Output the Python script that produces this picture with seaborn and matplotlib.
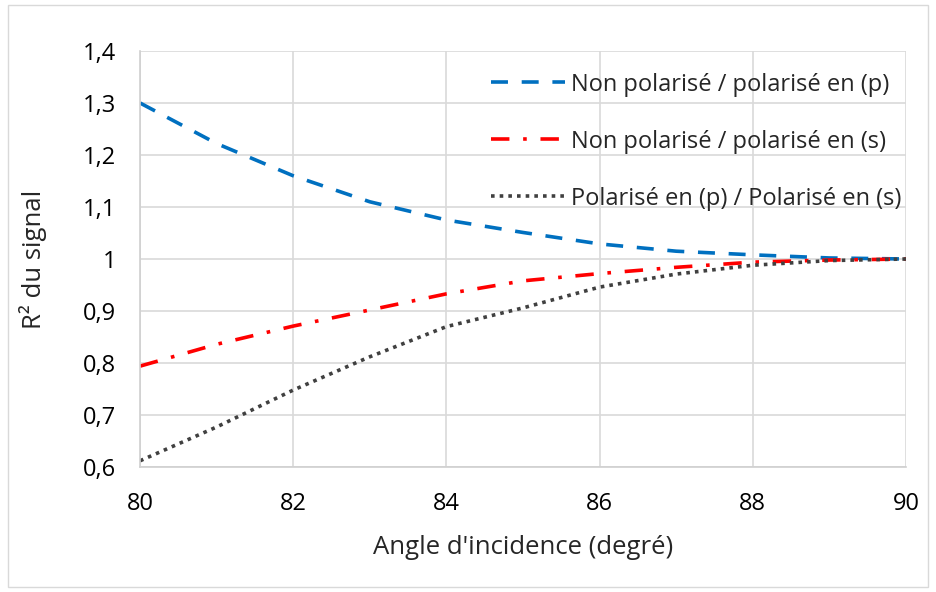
import numpy as np
import pandas as pd
import matplotlib
matplotlib.use("Agg")
import matplotlib.pyplot as plt
import seaborn as sns

# values
angles = [80, 81, 82, 83, 84, 85, 86, 87, 88, 89, 90]
non_pol_p = [1.300, 1.222, 1.160, 1.110, 1.075, 1.051, 1.029, 1.015, 1.008, 1.002, 1.000]
non_pol_s = [0.794, 0.836, 0.871, 0.902, 0.933, 0.958, 0.972, 0.984, 0.994, 0.998, 1.000]
pol_p_s = [0.612, 0.677, 0.748, 0.812, 0.870, 0.906, 0.946, 0.971, 0.988, 0.997, 1.000]
labels = ["Non polarisé / polarisé en (p)",
          "Non polarisé / polarisé en (s)",
          "Polarisé en (p) / Polarisé en (s)"]
y_ticks = [0.6, 0.7, 0.8, 0.9, 1.0, 1.1, 1.2, 1.3, 1.4]
y_tick_labels = ["0,6", "0,7", "0,8", "0,9", "1", "1,1", "1,2", "1,3", "1,4"]
x_ticks = [80, 82, 84, 86, 88, 90]

sns.set_theme(style="white")
plt.rcParams["font.family"] = ["Open Sans", "DejaVu Sans"]

df = pd.DataFrame({"angle": angles * 3,
                   "value": non_pol_p + non_pol_s + pol_p_s,
                   "serie": [labels[0]] * 11 + [labels[1]] * 11 + [labels[2]] * 11})

fig = plt.figure(figsize=(9.36, 5.92), dpi=100)
ax = fig.add_axes([0.1496, 0.2111, 0.8184, 0.7028])

styles = {
    labels[0]: dict(color="#0070C0", dashes=(4.7, 3.8)),
    labels[1]: dict(color="#FF0000", dashes=(5.1, 3.8, 1, 3.8)),
    labels[2]: dict(color="#404040", dashes=(1, 1.4)),
}
for lab in labels:
    st = styles[lab]
    sub = df[df["serie"] == lab]
    sns.lineplot(data=sub, x="angle", y="value", ax=ax, color=st["color"],
                 linewidth=2.6, label=lab)
    ax.lines[-1].set_dashes(st["dashes"])

ax.set_xlim(80, 90)
ax.set_ylim(0.6, 1.4)
ax.set_xticks(x_ticks)
ax.set_yticks(y_ticks)
ax.set_yticklabels(y_tick_labels)
ax.grid(True, color="#D9D9D9", linewidth=1.2)
for s in ["top", "right"]:
    ax.spines[s].set_visible(False)
for s in ["left", "bottom"]:
    ax.spines[s].set_color("#D0D0D0")
    ax.spines[s].set_linewidth(1.2)
ax.tick_params(axis="both", labelsize=17, colors="#000000", length=0)
ax.tick_params(axis="y", pad=17)
ax.tick_params(axis="x", pad=18)
ax.set_xlabel("Angle d'incidence (degré)", fontsize=18.5, labelpad=14)
ax.set_ylabel("R² du signal", fontsize=18.5, labelpad=26)

leg = ax.legend(loc="upper right", bbox_to_anchor=(1.021, 0.999), frameon=False,
                fontsize=17, handlelength=3.1, handletextpad=0.25, labelspacing=1.4)

fig.patches.append(plt.Rectangle((0.009, 0.008), 0.982, 0.984, transform=fig.transFigure,
                                 fill=False, edgecolor="#D9D9D9", linewidth=1))
fig.savefig("out.png", dpi=100, facecolor="white")
